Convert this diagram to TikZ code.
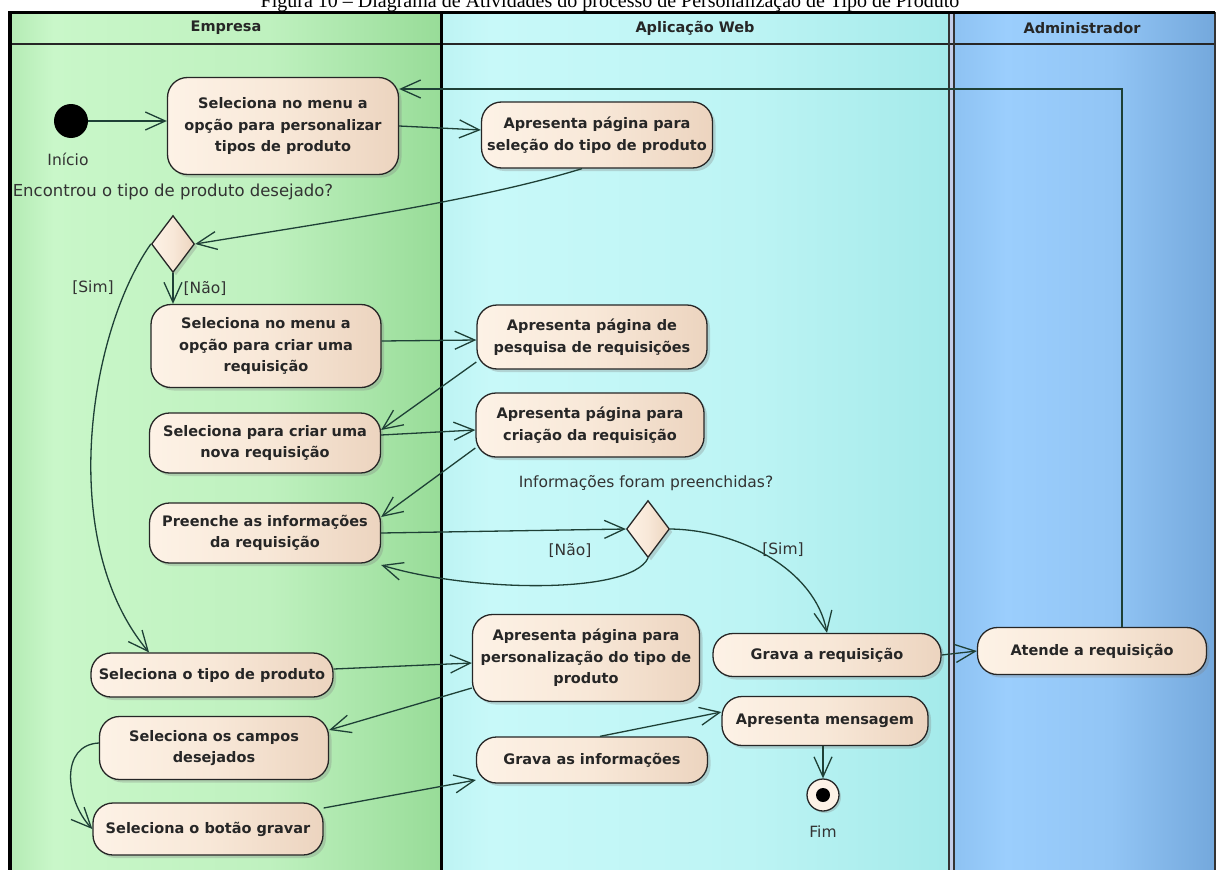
\documentclass[tikz,border=0pt]{standalone}
\usepackage{fontspec}
\setmainfont{DejaVu Sans}
\newfontfamily\capfont{Liberation Serif}
\usetikzlibrary{arrows.meta,shapes.geometric,shadows,calc}

% lane and node colours
\definecolor{empA}{HTML}{B4EBB4}
\definecolor{empB}{HTML}{C9F7C9}
\definecolor{empC}{HTML}{BFF1BF}
\definecolor{empD}{HTML}{98DC98}
\definecolor{webA}{HTML}{BDF3F3}
\definecolor{webB}{HTML}{C8F9F9}
\definecolor{webC}{HTML}{BDF4F4}
\definecolor{webD}{HTML}{A4EAEA}
\definecolor{admA}{HTML}{8EC2F2}
\definecolor{admB}{HTML}{9BCEFD}
\definecolor{admC}{HTML}{92C5F5}
\definecolor{admD}{HTML}{74A8DC}
\definecolor{ndL}{HTML}{FDF2E6}
\definecolor{ndM}{HTML}{F8E8D8}
\definecolor{ndR}{HTML}{ECD4BF}
\definecolor{ndBorder}{HTML}{262626}
\definecolor{edgeC}{HTML}{1E4036}
\definecolor{gapC}{HTML}{C2CCE8}

\pgfdeclarehorizontalshading{empsh}{100bp}{color(0bp)=(empA); color(25bp)=(empA); color(30bp)=(empB); color(55bp)=(empC); color(75bp)=(empD); color(100bp)=(empD)}
\pgfdeclarehorizontalshading{websh}{100bp}{color(0bp)=(webA); color(25bp)=(webA); color(30bp)=(webB); color(55bp)=(webC); color(75bp)=(webD); color(100bp)=(webD)}
\pgfdeclarehorizontalshading{admsh}{100bp}{color(0bp)=(admA); color(25bp)=(admA); color(35bp)=(admB); color(55bp)=(admC); color(75bp)=(admD); color(100bp)=(admD)}

\newcommand\actfont{\bfseries\fontsize{14.5}{21.5}\selectfont}
\newcommand\lblfont{\fontsize{15.5}{18}\selectfont}
\newcommand\hdrfont{\bfseries\fontsize{14.5}{16}\selectfont}

\tikzset{
  act/.style={draw=ndBorder, line width=1.3pt, rounded corners=20pt,
    left color=ndL, right color=ndR, middle color=ndM,
    drop shadow={shadow xshift=3pt, shadow yshift=-3pt, opacity=0.3},
    align=center, font=\actfont, inner sep=0pt, text=black!85},
  dec/.style={diamond, draw=ndBorder, line width=1.3pt,
    left color=ndL, right color=ndR, middle color=ndM,
    drop shadow={shadow xshift=3pt, shadow yshift=-3pt, opacity=0.3},
    inner sep=0pt, minimum width=43pt, minimum height=57pt},
  lbl/.style={font=\lblfont, inner sep=0pt, text=black!80},
  hdr/.style={font=\hdrfont, inner sep=0pt, text=black!85},
  arr/.style={draw=edgeC, line width=1.3pt,
    -{Straight Barb[length=20pt,width=18pt,line width=1.3pt]}},
}

\begin{document}
\begin{tikzpicture}[x=1pt,y=-1pt]
\useasboundingbox (0,0) rectangle (1221,870);
\clip (0,0) rectangle (1221,870);
\fill[white] (0,0) rectangle (1221,870);

% caption line, its upper part runs off the page
\node[font=\capfont\fontsize{20}{24}\selectfont, anchor=base, inner sep=0pt] (caption) at (610,7.5)
  {Figura 10 – Diagrama de Atividades do processo de Personalização de Tipo de Produto};

% swimlanes
\shade[shading=empsh] (10,12) rectangle (441,870);
\shade[shading=websh] (441,12) rectangle (949,870);
\shade[shading=admsh] (954,12) rectangle (1215,870);
\fill[gapC] (949,12) rectangle (954,870);
\draw[line width=1.5pt, black!85] (10,44) -- (1215,44);
\draw[line width=1.2pt, black!80] (949,12) -- (949,870);
\draw[line width=1.2pt, black!80] (954,12) -- (954,870);
\draw[line width=1.6pt, black!80] (1215,12) -- (1215,870);
\draw[line width=3pt, black] (441,12) -- (441,870);
\draw[line width=3pt, black] (10,12) -- (1215,12);
\draw[line width=3.5pt, black] (10,11) -- (10,870);

\node[hdr] (hEmp) at (226,28) {Empresa};
\node[hdr] (hWeb) at (695,28) {Aplicação Web};
\node[hdr] (hAdm) at (1082,28) {Administrador};

% start and end
\node[circle, fill=black, minimum size=34pt, inner sep=0pt] (init) at (71,121) {};
\node[lbl] (initlbl) at (68,159) {Início};
\node[circle, draw=ndBorder, line width=1.3pt, fill=ndL, minimum size=32pt, inner sep=0pt,
  drop shadow={shadow xshift=2pt, shadow yshift=-2pt, opacity=0.3}] (fin) at (823,795) {};
\node[circle, fill=black, minimum size=14pt, inner sep=0pt] (fincore) at (fin) {};
\node[lbl] (finlbl) at (823,832) {Fim};

% actions
\node[act, minimum width=231pt, minimum height=97pt] (a1) at (283,126)
  {Seleciona no menu a\\opção para personalizar\\tipos de produto};
\node[act, minimum width=231pt, minimum height=66pt] (w1) at (597,135)
  {Apresenta página para\\seleção do tipo de produto};
\node[act, minimum width=230pt, minimum height=83pt] (a2) at (266,346)
  {Seleciona no menu a\\opção para criar uma\\requisição};
\node[act, minimum width=230pt, minimum height=64pt] (w2) at (592,337)
  {Apresenta página de\\pesquisa de requisições};
\node[act, minimum width=231pt, minimum height=60pt] (a3) at (265,443)
  {Seleciona para criar uma\\nova requisição};
\node[act, minimum width=228pt, minimum height=64pt] (w3) at (590,425)
  {Apresenta página para\\criação da requisição};
\node[act, minimum width=231pt, minimum height=60pt] (a4) at (265,533)
  {Preenche as informações\\da requisição};
\node[act, minimum width=242pt, minimum height=44pt] (a5) at (212,675)
  {Seleciona o tipo de produto};
\node[act, minimum width=227pt, minimum height=87pt] (w4) at (586,658)
  {Apresenta página para\\personalização do tipo de\\produto};
\node[act, minimum width=228pt, minimum height=43pt] (w5) at (827,655)
  {Grava a requisição};
\node[act, minimum width=229pt, minimum height=47pt] (adm) at (1092,651)
  {Atende a requisição};
\node[act, minimum width=229pt, minimum height=63pt] (a6) at (214,748)
  {Seleciona os campos\\desejados};
\node[act, minimum width=206pt, minimum height=49pt] (w6) at (825,721)
  {Apresenta mensagem};
\node[act, minimum width=231pt, minimum height=46pt] (w7) at (592,760)
  {Grava as informações};
\node[act, minimum width=230pt, minimum height=52pt] (a7) at (208,829)
  {Seleciona o botão gravar};

% decisions
\node[lbl, font=\fontsize{16.5}{18}\selectfont] (q1) at (173,192) {Encontrou o tipo de produto desejado?};
\node[dec] (d1) at (173,244) {};
\node[lbl] (q2) at (646,483) {Informações foram preenchidas?};
\node[dec] (d2) at (648,529) {};

% guards
\node[lbl] (g1) at (93,288) {[Sim]};
\node[lbl] (g2) at (205,288) {[Não]};
\node[lbl] (g3) at (570,550) {[Não]};
\node[lbl] (g4) at (783,550) {[Sim]};

% control flows
\draw[arr] (init.east) -- (a1.west |- init.east);
\draw[arr] (a1.east) -- ([yshift=5pt]w1.west);
\draw[arr] ([xshift=-15pt]w1.south) .. controls (480,200) and (330,222) .. (d1.east);
\draw[arr] ([xshift=30pt]adm.north) |- ([yshift=37pt]a1.east);
\draw[arr] (d1.south) -- (d1.south |- a2.north);
\draw[arr] (d1.west) .. controls (90,330) and (55,540) .. ([xshift=-63pt]a5.north);
\draw[arr] ([yshift=5pt]a2.east) -- ([yshift=-3pt]w2.west);
\draw[arr] ([yshift=-25pt]w2.west) -- ([yshift=13pt]a3.east);
\draw[arr] ([yshift=8pt]a3.east) -- ([yshift=-5pt]w3.west);
\draw[arr] ([yshift=-23pt]w3.west) -- ([yshift=16pt]a4.east);
\draw[arr] (a4.east) -- (d2.west);
\draw[arr] (d2.south) .. controls (630,595) and (470,592) .. ([yshift=-32pt]a4.east);
\draw[arr] (d2.east) .. controls (740,530) and (815,570) .. (w5.north);
\draw[arr] ([yshift=6pt]a5.east) -- ([yshift=-5pt]w4.west);
\draw[arr] ([yshift=-30pt]w4.west) -- ([yshift=18pt]a6.east);
\draw[arr] ([yshift=5pt]a6.west) .. controls (60,745) and (65,800) .. (a7.west);
\draw[arr] ([yshift=21pt]a7.east) -- ([yshift=-20pt]w7.west);
\draw[arr] ([xshift=8pt]w7.north) -- ([yshift=9pt]w6.west);
\draw[arr] (fin |- w6.south) -- (fin.north);
\draw[arr] (w5.east) -- (adm.west);
\end{tikzpicture}
\end{document}
